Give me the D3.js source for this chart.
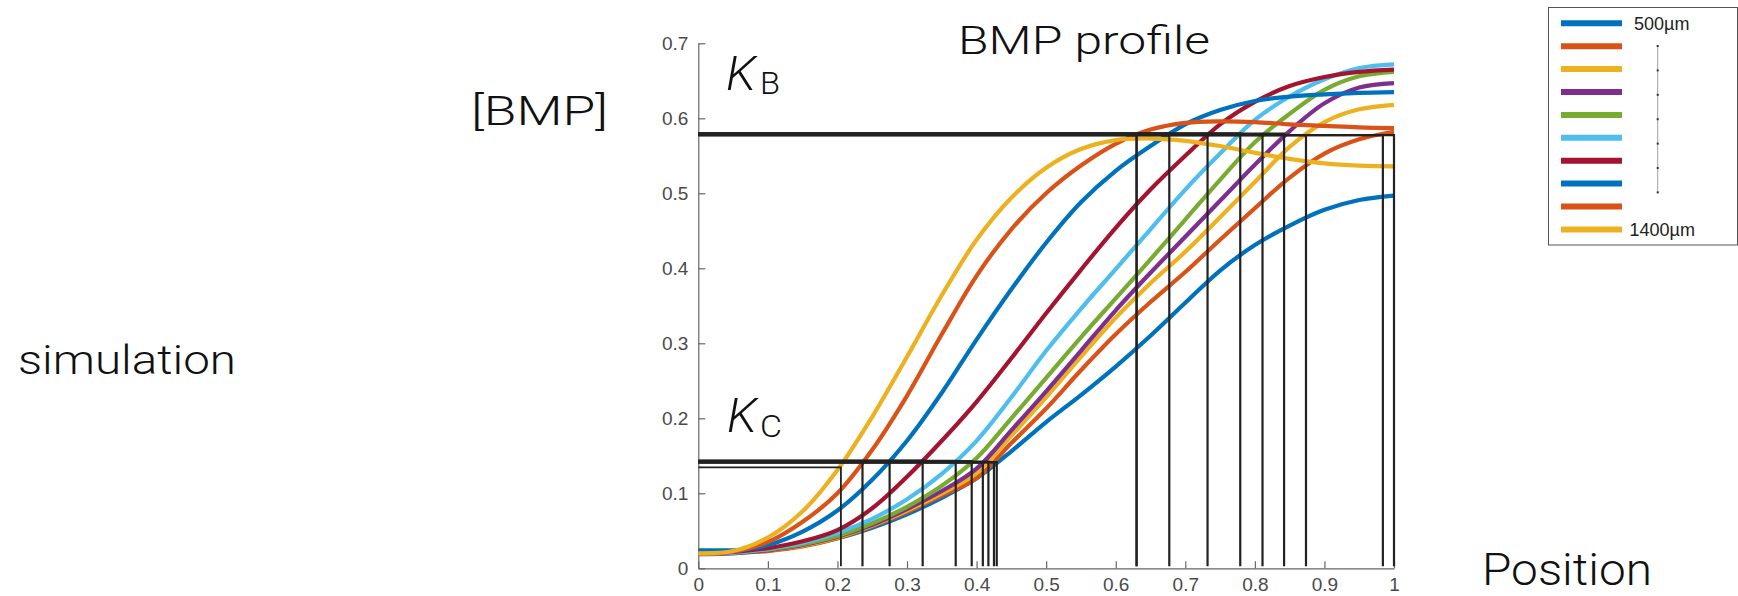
<!DOCTYPE html>
<html>
<head>
<meta charset="utf-8">
<script src="https://cdn.jsdelivr.net/npm/d3@7"></script>
<style>
  body { margin: 0; background: #fff; }
  svg { display: block; }
  .big { font-family: Roboto, "Liberation Sans", sans-serif; font-weight: 300; fill: #111; }
  .tick text { font-family: "Liberation Sans", Arial, sans-serif; font-size: 19px; fill: #4a4a4a; }
</style>
</head>
<body>
<div id="chart"></div>
<script>
// Size of the picture
var svgWidth = 1738;
var svgHeight = 596;

// Plot area (pixels)
var plot = { left: 698.3, right: 1394, top: 43.3, bottom: 568.3 };

// Sample positions along the tissue (0..1)
var positions = [0, 0.05, 0.1, 0.15, 0.2, 0.25, 0.3, 0.35, 0.4, 0.45, 0.5,
                 0.55, 0.6, 0.65, 0.7, 0.75, 0.8, 0.85, 0.9, 0.95, 1];

// BMP concentration for each tissue length
var bmp500  = [0.024, 0.024, 0.026, 0.031, 0.040, 0.054, 0.072, 0.094, 0.120, 0.156, 0.195,
               0.231, 0.269, 0.310, 0.354, 0.397, 0.431, 0.457, 0.478, 0.491, 0.497];
var bmp600  = [0.020, 0.021, 0.023, 0.029, 0.040, 0.056, 0.075, 0.097, 0.120, 0.167, 0.213,
               0.264, 0.312, 0.355, 0.395, 0.438, 0.480, 0.521, 0.553, 0.572, 0.582];
var bmp700  = [0.020, 0.021, 0.024, 0.030, 0.041, 0.057, 0.077, 0.100, 0.127, 0.177, 0.228,
               0.282, 0.334, 0.380, 0.422, 0.468, 0.515, 0.562, 0.595, 0.612, 0.618];
var bmp800  = [0.019, 0.020, 0.024, 0.031, 0.042, 0.058, 0.079, 0.103, 0.133, 0.184, 0.236,
               0.290, 0.344, 0.394, 0.442, 0.490, 0.538, 0.583, 0.620, 0.641, 0.647];
var bmp900  = [0.020, 0.021, 0.025, 0.032, 0.043, 0.060, 0.082, 0.110, 0.147, 0.200, 0.254,
               0.308, 0.360, 0.412, 0.465, 0.518, 0.568, 0.606, 0.638, 0.656, 0.662];
var bmp1000 = [0.020, 0.021, 0.026, 0.034, 0.047, 0.066, 0.092, 0.126, 0.170, 0.228, 0.290,
               0.346, 0.399, 0.452, 0.505, 0.553, 0.598, 0.629, 0.652, 0.667, 0.672];
var bmp1100 = [0.021, 0.022, 0.027, 0.036, 0.051, 0.080, 0.122, 0.170, 0.222, 0.280, 0.340,
               0.398, 0.454, 0.505, 0.550, 0.592, 0.622, 0.643, 0.655, 0.662, 0.665];
var bmp1200 = [0.022, 0.023, 0.031, 0.049, 0.077, 0.118, 0.170, 0.234, 0.305, 0.372, 0.434,
               0.488, 0.530, 0.563, 0.592, 0.611, 0.623, 0.629, 0.632, 0.634, 0.635];
var bmp1300 = [0.020, 0.022, 0.035, 0.062, 0.100, 0.158, 0.230, 0.312, 0.390, 0.452, 0.500,
               0.537, 0.566, 0.585, 0.594, 0.596, 0.595, 0.592, 0.590, 0.588, 0.587];
var bmp1400 = [0.020, 0.023, 0.041, 0.076, 0.131, 0.202, 0.282, 0.364, 0.438, 0.494, 0.534,
               0.559, 0.571, 0.573, 0.570, 0.563, 0.554, 0.546, 0.540, 0.537, 0.536];

var profiles = [bmp500, bmp600, bmp700, bmp800, bmp900, bmp1000, bmp1100, bmp1200, bmp1300, bmp1400];

// Line colours (MATLAB order, wrapping around)
var colors = ["#0072BD", "#D95319", "#EDB120", "#7E2F8E", "#77AC30",
              "#4DBEEE", "#A2142F", "#0072BD", "#D95319", "#EDB120"];

// Legend labels
var legendLabels = ["500µm", "", "", "", "", "", "", "", "", "1400µm"];

// Thresholds and where each profile crosses them
var kC = [0.1415, 0.1412, 0.1422, 0.1410, 0.1428, 0.1432, 0.1435, 0.1425, 0.1418, 0.1347];
var crossC = [0.429, 0.425, 0.417, 0.409, 0.393, 0.370, 0.3225, 0.275, 0.236, 0.205];
var kB = [0.5776, 0.5776, 0.5776, 0.5795, 0.5788, 0.5800, 0.5784, 0.5798, 0.5790, 0.5782];
var crossB = [1.0, 0.984, 0.8735, 0.842, 0.811, 0.779, 0.732, 0.677, 0.630, 0.630];

// Axis ticks
var xTicks = [0, 0.1, 0.2, 0.3, 0.4, 0.5, 0.6, 0.7, 0.8, 0.9, 1];
var xTickLabels = ["0", "0.1", "0.2", "0.3", "0.4", "0.5", "0.6", "0.7", "0.8", "0.9", "1"];
var yTicks = [0, 0.1, 0.2, 0.3, 0.4, 0.5, 0.6, 0.7];
var yTickLabels = ["0", "0.1", "0.2", "0.3", "0.4", "0.5", "0.6", "0.7"];

var svg = d3.select("#chart")
  .append("svg")
  .attr("width", svgWidth)
  .attr("height", svgHeight);

// Scales
var xScale = d3.scaleLinear().domain([0, 1]).range([plot.left, plot.right]);
var yScale = d3.scaleLinear().domain([0, 0.7]).range([plot.bottom, plot.top]);

// Axes (ticks point inward like MATLAB)
var bottomAxis = d3.axisBottom(xScale)
  .tickValues(xTicks)
  .tickFormat((d, i) => xTickLabels[i])
  .tickSizeInner(-7)
  .tickSizeOuter(0)
  .tickPadding(9);
var leftAxis = d3.axisLeft(yScale)
  .tickValues(yTicks)
  .tickFormat((d, i) => yTickLabels[i])
  .tickSizeInner(-7)
  .tickSizeOuter(0)
  .tickPadding(10);

var xAxisG = svg.append("g")
  .attr("transform", `translate(0, ${plot.bottom})`)
  .call(bottomAxis);
var yAxisG = svg.append("g")
  .attr("transform", `translate(${plot.left}, 0)`)
  .call(leftAxis);
[xAxisG, yAxisG].forEach(function(g) {
  g.select(".domain").attr("stroke", "#666").attr("stroke-width", 1.2);
  g.selectAll(".tick line").attr("stroke", "#666").attr("stroke-width", 1.2);
});

// Profiles
var line = d3.line()
  .x((d, i) => xScale(positions[i]))
  .y(d => yScale(d))
  .curve(d3.curveCatmullRom.alpha(0.5));

svg.append("g").selectAll("path")
  .data(profiles)
  .enter()
  .append("path")
  .attr("d", d => line(d))
  .attr("fill", "none")
  .attr("stroke", (d, i) => colors[i])
  .attr("stroke-width", 4.2)
  .attr("stroke-linejoin", "round");

// Threshold L-lines: (0,K) -> (x,K) -> (x,0)
var guides = svg.append("g").attr("fill", "none").attr("stroke", "#222").attr("stroke-width", 2.2);
guides.selectAll(".kc")
  .data(crossC)
  .enter()
  .append("path")
  .attr("d", (d, i) => `M${xScale(0)},${yScale(kC[i])}H${xScale(d)}V${yScale(0) - 2}`)
  .attr("stroke-width", (d, i) => i === 9 ? 1.8 : 2.2);
guides.selectAll(".kb")
  .data(crossB)
  .enter()
  .append("path")
  .attr("d", (d, i) => `M${xScale(0)},${yScale(kB[i])}H${xScale(d)}V${yScale(0) - 2}`);

// Texts
function bigText(x, y, size, str, len, italic) {
  var t = svg.append("text")
    .attr("class", "big")
    .attr("x", x)
    .attr("y", y)
    .style("font-size", size + "px")
    .text(str);
  if (len) t.attr("textLength", len).attr("lengthAdjust", "spacingAndGlyphs");
  if (italic) t.style("font-style", "italic");
  return t;
}

bigText(958, 53.5, 39, "BMP profile", 252);
bigText(471, 125, 40, "[BMP]", 137);
bigText(18, 374, 40, "simulation", 218);
bigText(1482, 585, 45, "Position", 170);

bigText(726, 90, 48, "K", 30, true);
bigText(760, 93.5, 32, "B", 20);
bigText(727, 431.5, 48, "K", 30, true);
bigText(760, 436.5, 32, "C", 22);

// Legend
var legend = svg.append("g");
legend.append("rect")
  .attr("x", 1548.5).attr("y", 7.5)
  .attr("width", 189).attr("height", 237.5)
  .attr("fill", "#fff").attr("stroke", "#555").attr("stroke-width", 1);

var rowStep = 22.9;
legend.selectAll(".lg")
  .data(colors)
  .enter()
  .append("line")
  .attr("x1", 1561).attr("x2", 1622)
  .attr("y1", (d, i) => 23.3 + i * rowStep)
  .attr("y2", (d, i) => 23.3 + i * rowStep)
  .attr("stroke", d => d)
  .attr("stroke-width", 6);

legend.selectAll(".lt")
  .data(legendLabels)
  .enter()
  .append("text")
  .attr("x", (d, i) => i === 0 ? 1634 : 1629.5)
  .attr("y", (d, i) => 29.5 + i * rowStep)
  .style("font-family", "\"Liberation Sans\", Arial, sans-serif")
  .style("font-size", "18px")
  .attr("fill", "#222")
  .text(d => d);

// vertical dotted ellipsis between the two labels
legend.append("line")
  .attr("x1", 1657.7).attr("x2", 1657.7)
  .attr("y1", 46).attr("y2", 192.5)
  .attr("stroke", "#888").attr("stroke-width", 0.8);
legend.selectAll(".dot")
  .data(d3.range(7))
  .enter()
  .append("rect")
  .attr("x", 1656.7)
  .attr("y", d => 45 + d * 24.4)
  .attr("width", 2).attr("height", 2)
  .attr("fill", "#333");
</script>
</body>
</html>
